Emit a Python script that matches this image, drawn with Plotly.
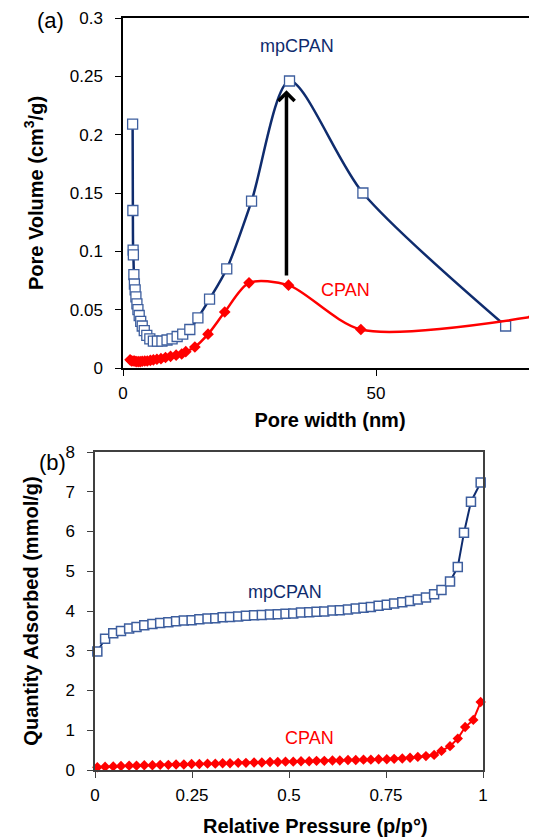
import plotly.graph_objects as go

# ---------- (a) pore size distribution ----------
mp_width = [1.9, 1.95, 2.0, 2.05, 2.15, 2.25, 2.4, 2.55, 2.75, 2.95, 3.2, 3.5, 3.8, 4.2, 4.7,
            5.3, 6.0, 6.8, 7.7, 8.7, 9.7, 10.7, 11.8, 13.2, 14.8, 17.1, 20.5, 25.4, 32.9, 47.4, 75.6]
mp_volume = [0.209, 0.135, 0.101, 0.097, 0.080, 0.072, 0.067, 0.061, 0.055, 0.050, 0.045, 0.040,
             0.036, 0.032, 0.028, 0.025, 0.023, 0.023, 0.023, 0.024, 0.025, 0.027, 0.029, 0.033,
             0.043, 0.059, 0.085, 0.143, 0.246, 0.150, 0.036]
cp_width = [1.4, 1.7, 2.0, 2.3, 2.6, 3.0, 3.4, 3.8, 4.3, 4.8, 5.4, 6.0, 6.7, 7.5, 8.4, 9.4,
            10.5, 11.6, 12.4, 14.2, 16.8, 20.1, 24.9, 32.7, 47.0, 81.1]
cp_volume = [0.007, 0.006, 0.006, 0.006, 0.0055, 0.0055, 0.0055, 0.0058, 0.006, 0.006, 0.0065,
             0.007, 0.0075, 0.008, 0.009, 0.010, 0.011, 0.012, 0.014, 0.018, 0.029, 0.048,
             0.073, 0.071, 0.033, 0.044]

# ---------- (b) isotherms ----------
p_base = [0.006, 0.026, 0.047, 0.067, 0.088, 0.107, 0.127, 0.148, 0.168, 0.189,
          0.209, 0.229, 0.249, 0.269, 0.290, 0.310, 0.329, 0.348, 0.369, 0.389,
          0.410, 0.430, 0.451, 0.471, 0.491, 0.511, 0.531, 0.552, 0.571, 0.591,
          0.612, 0.631, 0.652, 0.672, 0.692, 0.711, 0.731, 0.752, 0.771, 0.792,
          0.812, 0.832, 0.853, 0.874, 0.893, 0.915, 0.935]
mp_p = p_base + [0.951, 0.969, 0.994]
mp_q = [2.98, 3.30, 3.44, 3.50, 3.56, 3.60, 3.64, 3.67, 3.70, 3.72,
        3.74, 3.76, 3.77, 3.79, 3.81, 3.82, 3.84, 3.85, 3.86, 3.88,
        3.89, 3.90, 3.91, 3.92, 3.93, 3.94, 3.96, 3.97, 3.98, 3.99,
        4.01, 4.02, 4.04, 4.06, 4.08, 4.10, 4.13, 4.16, 4.19, 4.22,
        4.25, 4.29, 4.34, 4.42, 4.53, 4.74, 5.11,
        5.97, 6.75, 7.23]
cp_p = p_base + [0.954, 0.975, 0.994]
cp_q = [0.07, 0.08, 0.09, 0.10, 0.11, 0.11, 0.12, 0.12, 0.13, 0.13,
        0.14, 0.14, 0.15, 0.15, 0.16, 0.16, 0.17, 0.17, 0.18, 0.18,
        0.19, 0.19, 0.20, 0.20, 0.21, 0.21, 0.22, 0.22, 0.23, 0.23,
        0.24, 0.24, 0.25, 0.25, 0.26, 0.26, 0.27, 0.27, 0.28, 0.29,
        0.31, 0.33, 0.35, 0.38, 0.48, 0.60, 0.79,
        1.08, 1.26, 1.71]

NAVY = "#0F2C6E"
EDGE = "#3D5E9E"
RED = "#FF0000"
FONT = "Liberation Sans, Arial, sans-serif"

fig = go.Figure()

fig.add_trace(go.Scatter(x=mp_width, y=mp_volume, mode="lines+markers",
                         line=dict(color=NAVY, width=2.5, shape="spline", smoothing=0.8),
                         marker=dict(symbol="square", size=10, color="white",
                                     line=dict(color=EDGE, width=1.3)),
                         xaxis="x", yaxis="y", cliponaxis=False, showlegend=False))
fig.add_trace(go.Scatter(x=cp_width, y=cp_volume, mode="lines+markers",
                         line=dict(color=RED, width=2.5, shape="spline", smoothing=0.8),
                         marker=dict(symbol="diamond", size=9, color=RED),
                         xaxis="x", yaxis="y", cliponaxis=False, showlegend=False))
fig.add_trace(go.Scatter(x=cp_p, y=cp_q, mode="lines+markers",
                         line=dict(color=RED, width=2),
                         marker=dict(symbol="diamond", size=8, color=RED),
                         xaxis="x2", yaxis="y2", cliponaxis=False, showlegend=False))
fig.add_trace(go.Scatter(x=mp_p, y=mp_q, mode="lines+markers",
                         line=dict(color=NAVY, width=2),
                         marker=dict(symbol="square", size=9, color="white",
                                     line=dict(color=EDGE, width=1.5)),
                         xaxis="x2", yaxis="y2", cliponaxis=False, showlegend=False))

# the page body has an 8px default margin; size and place the figure to compensate
OFF = 8
W, H = 537 - OFF, 837 - OFF


def px_x(a, b):
    return [(a - OFF) / W, min(1.0, (b - OFF) / W)]


def px_y(top, bottom):
    return [1 - (bottom - OFF) / H, 1 - (top - OFF) / H]


tickfont = dict(family=FONT, size=17, color="black")
titlefont = dict(family=FONT, size=20, color="black")

fig.update_layout(
    width=W, height=H, margin=dict(l=0, r=0, t=0, b=0, autoexpand=False),
    paper_bgcolor="white", plot_bgcolor="white",
    font=dict(family=FONT),
    xaxis=dict(domain=px_x(123, 537), range=[0, 81.8], tickvals=[0, 50], automargin=False,
               showgrid=False, zeroline=False, showline=True, linecolor="black", linewidth=1.5,
               mirror=True, ticks="outside", ticklen=6, tickcolor="black", tickfont=tickfont,
               ticklabelstandoff=3,
               title=dict(text="<b>Pore width (nm)</b>", font=titlefont, standoff=11),
               anchor="y"),
    yaxis=dict(domain=px_y(18, 368), range=[0, 0.3], dtick=0.05, automargin=False,
               showgrid=False, zeroline=False, showline=True, linecolor="black", linewidth=1.5,
               ticks="outside", ticklen=6, tickcolor="black", tickfont=tickfont,
               ticklabelstandoff=9,
               title=dict(text="<b>Pore Volume (cm<sup>3</sup>/g)</b>", font=titlefont, standoff=21),
               anchor="x"),
    xaxis2=dict(domain=px_x(95, 483), range=[0, 1], dtick=0.25, automargin=False,
                showgrid=False, zeroline=False, showline=True, linecolor="#404040", linewidth=1.5,
                mirror=True, ticks="outside", ticklen=6, tickcolor="#404040", tickfont=tickfont,
                ticklabelstandoff=3, anchor="y2"),
    yaxis2=dict(domain=px_y(452, 770), range=[0, 8], dtick=1, automargin=False,
                showgrid=False, zeroline=False, showline=True, linecolor="#404040", linewidth=1.5,
                mirror=True, ticks="outside", ticklen=6, tickcolor="#404040", tickfont=tickfont,
                ticklabelstandoff=9,
                title=dict(text="<b>Quantity Adsorbed (mmol/g)</b>", font=titlefont, standoff=21),
                anchor="x2"),
)

fig.add_annotation(x=32.3, y=0.238, ax=32.3, ay=0.078, xref="x", yref="y", axref="x", ayref="y",
                   showarrow=True, arrowhead=4, arrowsize=0.9, arrowwidth=3.5, arrowcolor="black", text="")
fig.add_annotation(x=34.4, y=0.276, xref="x", yref="y", text="mpCPAN", showarrow=False,
                   font=dict(family=FONT, size=18, color=NAVY))
fig.add_annotation(x=44.0, y=0.067, xref="x", yref="y", text="CPAN", showarrow=False,
                   font=dict(family=FONT, size=18, color=RED))
fig.add_annotation(x=0.49, y=4.48, xref="x2", yref="y2", text="mpCPAN", showarrow=False,
                   font=dict(family=FONT, size=18, color=NAVY))
fig.add_annotation(x=0.554, y=0.8, xref="x2", yref="y2", text="CPAN", showarrow=False,
                   font=dict(family=FONT, size=18, color=RED))
fig.add_annotation(x=(315 - OFF) / W, y=1 - (826 - OFF) / H, xref="paper", yref="paper",
                   text="<b>Relative Pressure (p/p°)</b>", showarrow=False,
                   xanchor="center", yanchor="middle", font=titlefont)
fig.add_annotation(x=(50 - OFF) / W, y=1 - (20 - OFF) / H, xref="paper", yref="paper", text="(a)",
                   showarrow=False, xanchor="center", yanchor="middle",
                   font=dict(family=FONT, size=22, color="black"))
fig.add_annotation(x=(52 - OFF) / W, y=1 - (463 - OFF) / H, xref="paper", yref="paper", text="(b)",
                   showarrow=False, xanchor="center", yanchor="middle",
                   font=dict(family=FONT, size=22, color="black"))

fig.write_html("out.html")
